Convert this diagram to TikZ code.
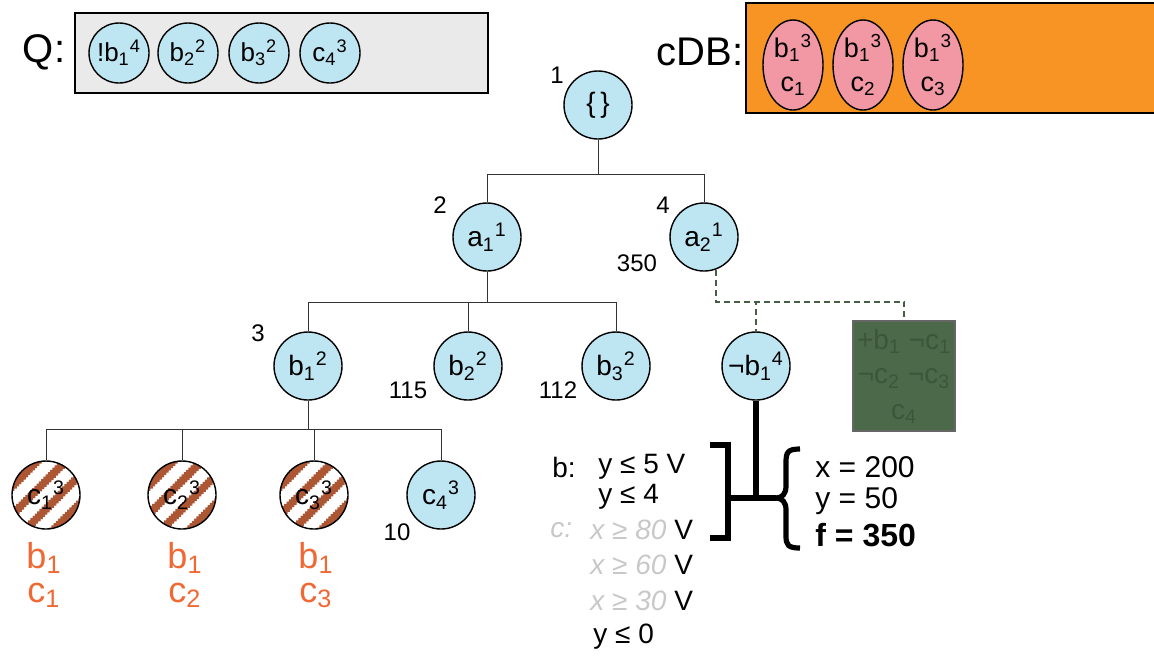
\documentclass[tikz,border=0pt]{standalone}
\usepackage{fontspec}
\setmainfont{Liberation Sans}
\usetikzlibrary{positioning,shapes.geometric,decorations.pathmorphing}
\definecolor{nodeblue}{RGB}{190,229,242}
\definecolor{qgray}{RGB}{234,234,234}
\definecolor{cdborange}{RGB}{247,148,36}
\definecolor{cdbpink}{RGB}{242,152,165}
\definecolor{hatchbrown}{RGB}{172,86,52}
\definecolor{solorange}{RGB}{240,104,52}
\definecolor{boxgreen}{RGB}{76,106,74}
\definecolor{boxtext}{RGB}{60,86,58}
\definecolor{fadedgray}{RGB}{200,200,200}
\newcommand{\lit}[3]{#1\textsubscript{#2}\textsuperscript{#3}}

\begin{document}
\begin{tikzpicture}[
        x=0.5pt, y=-0.5pt,
        lit/.style={circle, draw, line width=0.7pt, fill=nodeblue, minimum size=34pt, inner sep=0pt, font=\fontsize{14}{16}\selectfont},
        qlit/.style={lit, minimum size=30pt, font=\fontsize{13}{15}\selectfont},
        dead/.style={lit, fill=white, path picture={
            \foreach \d in {-15,-5,5,15}
              \draw[hatchbrown, line width=2.8pt, decorate, decoration={zigzag, amplitude=0.4pt, segment length=1.6pt}]
                ([xshift={(-15.6-0.707*\d)*1pt}, yshift={(-15.6+0.707*\d)*1pt}]path picture bounding box.center) -- ++(31.2pt,31.2pt);}},
        cdb/.style={ellipse, draw, line width=0.7pt, fill=cdbpink, minimum width=30pt, minimum height=45pt, inner sep=0pt, align=center, font=\fontsize{13.5}{17}\selectfont},
        panel/.style={draw, line width=0.7pt, inner sep=0pt},
        biglabel/.style={font=\fontsize{20}{22}\selectfont},
        num/.style={inner sep=0pt, font=\fontsize{12}{14}\selectfont},
        branch/.style={line width=0.5pt, draw=black!80},
        dashlink/.style={line width=0.9pt, draw=boxgreen!90!black, dash pattern=on 3pt off 2pt},
        heavy/.style={line width=3pt},
        cons/.style={anchor=west, inner sep=0pt, font=\fontsize{14}{16}\selectfont},
        sol/.style={text=solorange, align=center, font=\fontsize{18}{17}\selectfont}
    ]
        \useasboundingbox (0,0) rectangle (1154,655);

        % Queue and conflict database
        \node[panel, fill=qgray, minimum width=206.5pt, minimum height=40pt] (qbox) at (281.5,53) {};
        \node[biglabel] (qlab) at (44,52) {Q:};
        \node[qlit] (q1) at (119,53) {\lit{!b}{1}{4}};
        \node[qlit] (q2) at (188,53) {\lit{b}{2}{2}};
        \node[qlit] (q3) at (259,53) {\lit{b}{3}{2}};
        \node[qlit] (q4) at (330,53) {\lit{c}{4}{3}};

        \node[panel, fill=cdborange, minimum width=210pt, minimum height=55pt] (dbbox) at (956,58) {};
        \node[biglabel] (dblab) at (700,52) {cDB:};
        \node[cdb] (db1) at (793,65) {\lit{b}{1}{3}\\c\textsubscript{1}};
        \node[cdb] (db2) at (863,65) {\lit{b}{1}{3}\\c\textsubscript{2}};
        \node[cdb] (db3) at (933,65) {\lit{b}{1}{3}\\c\textsubscript{3}};

        % Search tree
        \node[lit] (root) at (598,105) {\{\,\}};
        \node[lit] (a1) at (487,237) {\lit{a}{1}{1}};
        \node[lit] (a2) at (704,237) {\lit{a}{2}{1}};
        \node[lit] (b1) at (308,366) {\lit{b}{1}{2}};
        \node[lit] (b2) at (468,366) {\lit{b}{2}{2}};
        \node[lit] (b3) at (616,366) {\lit{b}{3}{2}};
        \node[lit] (nb) at (756,366) {¬\lit{b}{1}{4}};
        \node[dead] (c1) at (46,495) {\lit{c}{1}{3}};
        \node[dead] (c2) at (182,495) {\lit{c}{2}{3}};
        \node[dead] (c3) at (314,495) {\lit{c}{3}{3}};
        \node[lit] (c4) at (441,495) {\lit{c}{4}{3}};
        \node[panel, draw=black!60, fill=boxgreen, text=boxtext, minimum width=51pt, minimum height=55pt, align=center, font=\fontsize{14}{17.5}\selectfont] (gbox) at (904,376) {+b\textsubscript{1} ¬c\textsubscript{1}\\¬c\textsubscript{2} ¬c\textsubscript{3}\\c\textsubscript{4}};

        % Numbers
        \node[num] (n1) at (557,75) {1};
        \node[num] (n2) at (440,205) {2};
        \node[num] (n4) at (663,205) {4};
        \node[num] (n350) at (637,263) {350};
        \node[num] (n3) at (258,333) {3};
        \node[num] (n115) at (408,390) {115};
        \node[num] (n112) at (558,390) {112};
        \node[num] (n10) at (397,532) {10};

        % Solutions under the pruned leaves
        \node[sol] (s1) at (44,575) {b\textsubscript{1}\\c\textsubscript{1}};
        \node[sol] (s2) at (185,575) {b\textsubscript{1}\\c\textsubscript{2}};
        \node[sol] (s3) at (316,575) {b\textsubscript{1}\\c\textsubscript{3}};

        % Constraints
        \node[cons] (bl) at (552,467) {b:};
        \node[cons] (b5) at (598,467) {y ≤ 5 V};
        \node[cons] (b4) at (598,497) {y ≤ 4};
        \node[cons, text=fadedgray, font=\fontsize{14}{16}\selectfont\itshape] (cl) at (550,530) {c:};
        \node[cons] (c80) at (590,530) {{\color{fadedgray}\itshape x ≥ 80} V};
        \node[cons] (c60) at (590,565) {{\color{fadedgray}\itshape x ≥ 60} V};
        \node[cons] (c30) at (590,601) {{\color{fadedgray}\itshape x ≥ 30} V};
        \node[cons] (b0) at (593,637) {y ≤ 0};

        \node[cons, font=\fontsize{15}{17}\selectfont] (sx) at (815,467) {x = 200};
        \node[cons, font=\fontsize{15}{17}\selectfont] (sy) at (815,501) {y = 50};
        \node[cons, font=\fontsize{16}{18}\selectfont] (sf) at (815,535) {\textbf{f = 350}};

        % Connectors
        \draw[branch] (root.south) -- ++(0,35) -| (a1.north);
        \draw[branch] (root.south) -- ++(0,35) -| (a2.north);
        \draw[branch] (a1.south) -- ++(0,31) -| (b1.north);
        \draw[branch] (a1.south) -- ++(0,31) -| (b2.north);
        \draw[branch] (a1.south) -- ++(0,31) -| (b3.north);
        \draw[branch] (b1.south) -- ++(0,29) -| (c1.north);
        \draw[branch] (b1.south) -- ++(0,29) -| (c2.north);
        \draw[branch] (b1.south) -- ++(0,29) -| (c3.north);
        \draw[branch] (b1.south) -- ++(0,29) -| (c4.north);
        \draw[dashlink] (a2.-70) -- ++(0,32) -| (nb.north);
        \draw[dashlink] (a2.-70) -- ++(0,32) -| (gbox.north);

        % Bracket and brace
        \coordinate (brk) at (728,498);
        \coordinate (brc) at (776,498);
        \draw[heavy] (nb.south) -- (nb.south |- brk);
        \draw[heavy] (brk) -- (brc);
        \draw[heavy] (710,445) -- (728,445) -- (728,538) -- (710,538);
        \draw[line width=2.6pt] (800,449) .. controls (788,449) and (786,452) .. (786,462) -- (786,486)
            .. controls (786,494) and (782,498) .. (brc)
            .. controls (782,498) and (786,502) .. (786,510) -- (786,536)
            .. controls (786,545) and (788,548) .. (800,548);
    \end{tikzpicture}
\end{document}
